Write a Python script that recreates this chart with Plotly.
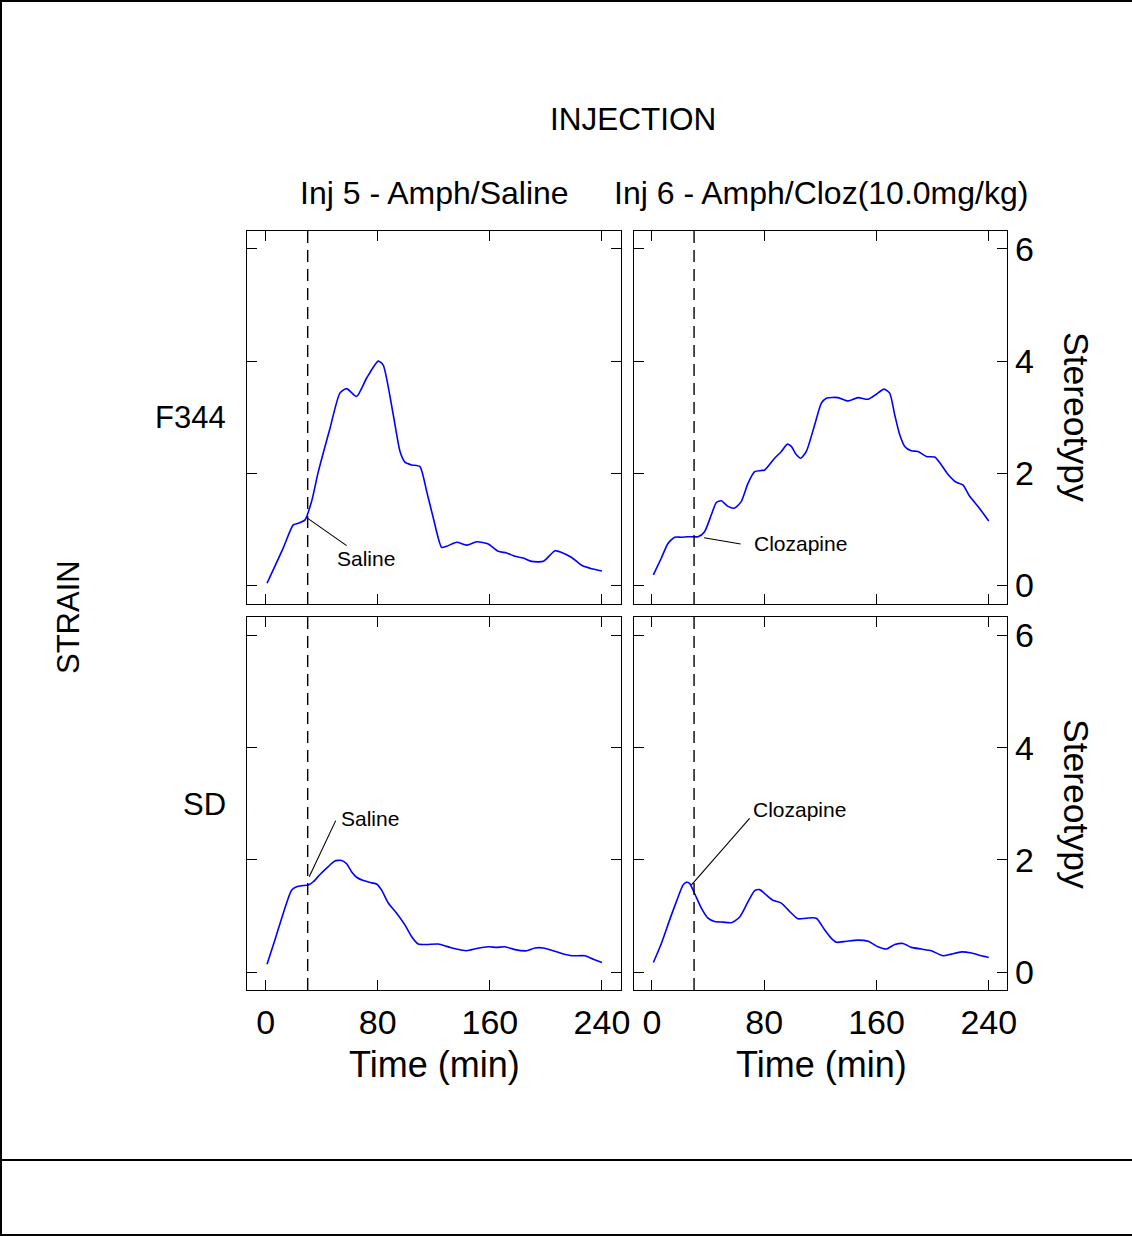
import plotly.graph_objects as go

W, H = 1132, 1236
FONT = "Liberation Sans, Arial, sans-serif"

# ---------------- data ----------------
f344_saline_t = [1, 12.6, 19.7, 23.3, 28.1, 32.8, 37.6, 45.9, 53.0, 57.8, 64.9, 72.1, 80.4, 83.9,
                 91.1, 95.9, 99.4, 104.2, 110.1, 114.9, 119.7, 125.6, 129.2, 136.3, 143.5, 150.6,
                 158.9, 166.0, 172.0, 177.9, 183.9, 189.8, 198.2, 206.5, 211.2, 218.4, 225.5,
                 232.6, 240]
f344_saline_y = [0.04, 0.67, 1.08, 1.11, 1.17, 1.50, 2.03, 2.80, 3.43, 3.51, 3.37, 3.70, 4.00, 3.93,
                 3.04, 2.39, 2.20, 2.15, 2.12, 1.68, 1.20, 0.68, 0.70, 0.77, 0.72, 0.78,
                 0.74, 0.61, 0.58, 0.52, 0.49, 0.43, 0.43, 0.62, 0.59, 0.50, 0.36,
                 0.30, 0.26]

f344_cloz_t = [1, 6.7, 11.4, 16.2, 20.9, 25.7, 32.8, 37.5, 42.3, 45.9, 49.4, 54.2, 58.9, 63.7,
               68.4, 73.2, 80.3, 87.4, 92.2, 96.5, 99.3, 102.9, 106.0, 110.0, 115.9, 120.7,
               124.3, 132.6, 139.7, 146.8, 154.0, 159.9, 165.4, 169.4, 173.0, 176.5, 180.1,
               184.8, 189.6, 195.5, 201.5, 206.2, 211.0, 216.9, 221.7, 226.4, 233.6, 240]
f344_cloz_y = [0.19, 0.49, 0.75, 0.86, 0.86, 0.87, 0.87, 0.96, 1.26, 1.48, 1.51, 1.41, 1.38, 1.50,
               1.82, 2.03, 2.06, 2.27, 2.39, 2.52, 2.48, 2.33, 2.27, 2.39, 2.86, 3.25,
               3.34, 3.35, 3.29, 3.35, 3.32, 3.41, 3.50, 3.43, 3.04, 2.69, 2.48,
               2.40, 2.39, 2.30, 2.29, 2.15, 1.98, 1.84, 1.79, 1.59, 1.37, 1.15]

sd_saline_t = [1, 6.6, 12.6, 18.5, 22.1, 25.7, 30.4, 34.0, 38.8, 44.7, 49.4, 54.2, 57.8, 61.3,
               64.9, 69.7, 75.6, 79.2, 82.8, 87.5, 93.5, 99.4, 104.2, 108.9, 114.9, 123.2,
               131.5, 143.4, 150.6, 158.9, 164.9, 170.8, 177.9, 186.3, 192.2, 198.2, 205.3,
               212.4, 218.4, 227.9, 233.8, 240]
sd_saline_y = [0.14, 0.57, 1.05, 1.46, 1.52, 1.54, 1.55, 1.61, 1.74, 1.88, 1.98, 1.99, 1.93, 1.79,
               1.69, 1.63, 1.59, 1.57, 1.46, 1.23, 1.05, 0.84, 0.63, 0.50, 0.49, 0.50,
               0.44, 0.38, 0.42, 0.45, 0.44, 0.45, 0.40, 0.38, 0.43, 0.43, 0.38,
               0.32, 0.29, 0.29, 0.23, 0.17]

sd_cloz_t = [1, 6.7, 12.6, 18.5, 22.1, 24.5, 26.8, 30.4, 35.2, 39.9, 44.7, 50.6, 56.6, 62.5,
             68.4, 73.2, 76.7, 80.3, 86.2, 92.2, 98.1, 104.1, 110.0, 117.1, 123.1, 127.8,
             131.4, 138.5, 146.8, 154.0, 161.1, 167.0, 173.0, 178.9, 184.8, 192.0, 199.1,
             207.4, 213.3, 220.5, 227.6, 234.7, 240]
sd_cloz_y = [0.17, 0.51, 0.93, 1.33, 1.55, 1.60, 1.58, 1.40, 1.14, 0.96, 0.90, 0.89, 0.88, 0.98,
             1.25, 1.45, 1.47, 1.40, 1.28, 1.23, 1.08, 0.95, 0.96, 0.96, 0.75, 0.60,
             0.53, 0.55, 0.57, 0.55, 0.45, 0.41, 0.49, 0.51, 0.44, 0.41, 0.38,
             0.29, 0.32, 0.36, 0.34, 0.29, 0.26]

injection_labels = ["Inj 5 - Amph/Saline", "Inj 6 - Amph/Cloz(10.0mg/kg)"]
strain_labels = ["F344", "SD"]
drug_labels = ["Saline", "Clozapine"]
x_ticks = [0, 80, 160, 240]
y_ticks = [0, 2, 4, 6]
injection_time = 30

# ---------------- helpers ----------------
def px(x):
    return x / W

def py(y):
    return 1 - y / H

col_dom = [[px(247), px(621)], [px(634), px(1007)]]
row_dom = [[py(604), py(231)], [py(990), py(617)]]
x_rng = [[-13.3, 253.6], [-12.8, 253.0]]
y_rng = [[-0.33, 6.32], [-0.32, 6.33]]

fig = go.Figure()

series = [
    (f344_saline_t, f344_saline_y),
    (f344_cloz_t, f344_cloz_y),
    (sd_saline_t, sd_saline_y),
    (sd_cloz_t, sd_cloz_y),
]

for i, (t, y) in enumerate(series):
    sfx = "" if i == 0 else str(i + 1)
    fig.add_trace(go.Scatter(x=t, y=y, mode="lines", xaxis="x" + sfx, yaxis="y" + sfx,
                             line=dict(color="#0000FF", width=1.6, shape="spline", smoothing=0.6),
                             showlegend=False, hoverinfo="skip"))

axis_common = dict(showline=True, linecolor="black", linewidth=1.4, mirror="ticks",
                   ticks="inside", ticklen=10, tickwidth=1.2, tickcolor="black",
                   showgrid=False, zeroline=False, automargin=False,
                   tickfont=dict(family=FONT, size=34, color="black"))

layout = {}
for i in range(4):
    r, c = divmod(i, 2)
    sfx = "" if i == 0 else str(i + 1)
    layout["xaxis" + sfx] = dict(axis_common, domain=col_dom[c], range=x_rng[c],
                                 anchor="y" + sfx, tickvals=x_ticks,
                                 showticklabels=(r == 1), ticklabelstandoff=2)
    layout["yaxis" + sfx] = dict(axis_common, domain=row_dom[r], range=y_rng[r],
                                 anchor="x" + sfx, tickvals=y_ticks,
                                 side=("right" if c == 1 else "left"),
                                 showticklabels=(c == 1), ticklabelstandoff=0)

fig.update_layout(**layout)

shapes = []
annotations = []

# dashed injection lines
for i in range(4):
    sfx = "" if i == 0 else str(i + 1)
    shapes.append(dict(type="line", xref="x" + sfx, yref="y" + sfx + " domain",
                       x0=injection_time, x1=injection_time, y0=0, y1=1,
                       line=dict(color="black", width=1.4, dash="12px,7px")))

# leader lines and labels: (panel, line start, line end, text position)
callouts = [
    (0, (29.3, 1.21), (57.8, 0.71), (49.5, 0.48), drug_labels[0]),
    (1, (37.1, 0.85), (63.2, 0.74), (71.3, 0.74), drug_labels[1]),
    (2, (31.1, 1.70), (50.0, 2.70), (52.3, 2.74), drug_labels[0]),
    (3, (28.0, 1.55), (69.6, 2.74), (70.5, 2.89), drug_labels[1]),
]
for i, p0, p1, pt, txt in callouts:
    sfx = "" if i == 0 else str(i + 1)
    shapes.append(dict(type="line", xref="x" + sfx, yref="y" + sfx,
                       x0=p0[0], y0=p0[1], x1=p1[0], y1=p1[1],
                       line=dict(color="black", width=1.1)))
    annotations.append(dict(xref="x" + sfx, yref="y" + sfx, x=pt[0], y=pt[1], text=txt,
                            showarrow=False, xanchor="left", yanchor="middle",
                            font=dict(family=FONT, size=21, color="black")))

def txt(x, y, s, size, xanchor="center", angle=0):
    annotations.append(dict(xref="paper", yref="paper", x=px(x), y=py(y), text=s,
                            showarrow=False, xanchor=xanchor, yanchor="middle",
                            textangle=angle,
                            font=dict(family=FONT, size=size, color="black")))

txt(633, 119, "INJECTION", 31.5)
txt(434, 193, injection_labels[0], 32)
txt(821, 193, injection_labels[1], 32)
txt(228, 418, strain_labels[0], 31, xanchor="right")
txt(228, 804, strain_labels[1], 31, xanchor="right")
txt(68, 617, "STRAIN", 31, angle=-90)
txt(1076, 417, "Stereotypy", 35.5, angle=90)
txt(1076, 804, "Stereotypy", 35.5, angle=90)
txt(434, 1064, "Time (min)", 36)
txt(821, 1064, "Time (min)", 36)

# outer frame lines
frame = dict(color="black", width=2)
shapes += [
    dict(type="line", xref="paper", yref="paper", x0=px(1), x1=px(1), y0=0, y1=1, line=frame),
    dict(type="line", xref="paper", yref="paper", x0=0, x1=1, y0=py(1), y1=py(1), line=frame),
    dict(type="line", xref="paper", yref="paper", x0=0, x1=1, y0=py(1160), y1=py(1160), line=frame),
    dict(type="line", xref="paper", yref="paper", x0=0, x1=1, y0=py(1235), y1=py(1235), line=frame),
]

fig.update_layout(width=W, height=H, margin=dict(l=0, r=0, t=0, b=0),
                  paper_bgcolor="white", plot_bgcolor="white", template="none",
                  shapes=shapes, annotations=annotations, showlegend=False,
                  font=dict(family=FONT, color="black"))

fig.write_html("out.html")
